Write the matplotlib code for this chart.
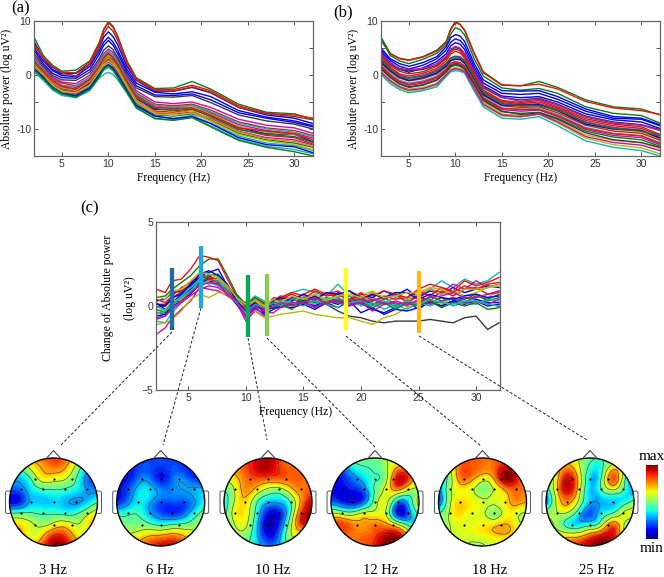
import matplotlib
matplotlib.use('Agg')
import matplotlib.pyplot as plt
import matplotlib.tri as mtri
import numpy as np
from matplotlib.lines import Line2D
from matplotlib.patches import Circle, FancyBboxPatch

W, H = 664, 577
plt.rcParams['font.family'] = ['Liberation Serif', 'DejaVu Serif']

BL, GR, RD, TE, MA, OL, DK = '#0000f0', '#0a7d1a', '#ee1111', '#12b5b0', '#c010b0', '#b8b810', '#3a3a3a'
BR = '#a0301a'
OR = '#e08a10'

freq_ab = [2, 3, 4, 5, 6.5, 8, 9, 9.5, 10, 10.5, 11, 12, 13, 15, 17, 19, 21, 24, 27, 30, 32]

power_a = [
    [1.8, 0.1, -1.6, -2.5, -3.0, -1.5, 1.0, 2.3, 3.0, 2.6, 1.5, -1.7, -4.4, -6.4, -6.4, -6.0, -7.1, -9.7, -10.9, -11.0, -12.4],
    [1.5, -0.1, -1.9, -2.8, -3.2, -1.8, 0.8, 2.1, 2.8, 2.2, 1.1, -2.0, -4.8, -6.7, -6.9, -6.4, -7.6, -10.0, -11.2, -11.6, -12.8],
    [1.3, -0.3, -2.1, -3.0, -3.5, -2.0, 0.5, 1.8, 2.4, 1.8, 0.7, -2.3, -5.2, -7.1, -7.2, -6.9, -8.0, -10.4, -11.6, -12.0, -13.0],
    [1.1, -0.6, -2.3, -3.3, -3.7, -2.3, 0.3, 1.4, 2.0, 1.4, 0.3, -2.6, -5.5, -7.4, -7.6, -7.2, -8.3, -10.8, -12.0, -12.6, -13.4],
    [0.9, -0.8, -2.6, -3.6, -4.0, -2.6, -0.2, 0.9, 1.4, 0.8, -0.3, -3.0, -5.8, -7.7, -8.0, -7.5, -8.9, -11.3, -12.6, -13.1, -14.0],
    [0.6, -1.0, -2.8, -3.8, -4.2, -2.9, -0.6, 0.1, 0.5, 0.1, -0.9, -3.4, -6.2, -8.0, -8.3, -7.8, -9.4, -11.9, -13.2, -13.8, -14.6],
    [2.4, 0.5, -1.2, -2.2, -2.6, -1.0, 1.4, 2.8, 3.6, 3.0, 1.9, -1.4, -3.9, -6.1, -6.3, -5.9, -7.2, -9.5, -10.6, -11.0, -12.0],
    [2.8, 0.9, -0.9, -1.9, -2.3, -0.7, 1.8, 3.3, 4.0, 3.4, 2.2, -1.0, -3.7, -5.7, -6.0, -5.6, -6.9, -9.2, -10.3, -10.8, -11.7],
    [3.1, 1.1, -0.7, -1.5, -2.0, -0.4, 2.1, 3.6, 4.3, 3.8, 2.6, -0.7, -3.3, -5.4, -5.7, -5.4, -6.5, -8.7, -9.8, -10.3, -11.2],
    [3.5, 1.4, -0.4, -1.3, -1.6, 0.0, 2.5, 4.0, 4.8, 4.2, 2.9, -0.4, -2.9, -5.0, -5.3, -5.0, -6.0, -8.2, -9.3, -9.8, -10.8],
    [4.0, 1.7, -0.1, -0.9, -1.0, 0.5, 3.0, 4.6, 5.4, 4.7, 3.3, 0.0, -2.4, -4.0, -4.1, -3.8, -5.1, -7.4, -8.5, -9.1, -10.0],
    [2.2, 0.3, -1.4, -2.3, -2.8, -1.1, 1.2, 2.6, 3.3, 2.8, 1.6, -1.6, -4.2, -6.2, -6.6, -6.3, -7.7, -10.1, -11.0, -11.4, -12.5],
    [1.6, -0.2, -1.9, -3.0, -3.3, -1.9, 0.6, 1.9, 2.6, 2.0, 0.9, -2.2, -5.0, -7.2, -7.5, -7.0, -8.6, -11.0, -12.2, -12.9, -13.8],
    [1.2, -0.4, -2.4, -3.4, -3.9, -2.4, 0.0, 1.2, 1.9, 1.2, 0.0, -2.9, -5.7, -7.6, -8.1, -7.7, -9.0, -11.6, -12.9, -13.3, -14.4],
    [2.0, 0.2, -1.5, -2.4, -2.9, -1.2, 1.1, 2.4, 3.2, 2.5, 1.3, -1.9, -4.6, -6.9, -7.1, -6.6, -8.2, -10.5, -11.8, -12.3, -13.2],
    [4.6, 2.1, 0.3, -0.5, -0.6, 1.0, 3.8, 5.5, 6.4, 5.5, 4.0, 0.5, -2.0, -3.7, -3.8, -3.5, -4.6, -7.0, -8.0, -8.8, -9.6],
    [5.0, 2.6, 0.8, -0.1, -0.3, 1.6, 4.4, 6.1, 7.0, 6.1, 4.6, 1.0, -1.5, -3.2, -3.5, -3.1, -4.0, -6.6, -7.8, -8.5, -9.4],
    [6.2, 3.1, 1.0, 0.2, 0.3, 2.0, 5.0, 7.0, 8.0, 7.1, 5.6, 1.6, -1.0, -3.0, -3.0, -2.3, -3.3, -6.0, -7.4, -8.0, -9.0],
    [5.6, 3.0, 1.4, 0.4, -0.2, 2.0, 5.2, 7.7, 9.0, 8.1, 6.4, 2.1, -0.9, -2.9, -3.0, -2.2, -3.2, -6.0, -7.2, -7.7, -8.3],
    [7.0, 3.6, 1.8, 0.7, 0.9, 2.6, 6.0, 8.5, 9.9, 9.0, 7.2, 2.6, -0.5, -2.5, -2.4, -1.2, -2.6, -5.4, -6.9, -7.2, -8.2],
    [5.8, 3.2, 1.5, 0.5, 0.4, 2.4, 5.7, 8.3, 9.7, 8.8, 7.0, 2.4, -0.7, -2.7, -2.7, -1.9, -2.9, -5.7, -7.1, -7.4, -8.0],
    [3.0, 1.0, -1.0, -2.0, -2.1, -0.5, 2.0, 3.7, 4.5, 3.7, 2.4, -0.9, -3.5, -5.6, -6.0, -5.6, -6.8, -8.9, -10.0, -10.6, -11.4],
    [2.6, 0.7, -1.1, -2.1, -2.6, -0.8, 1.6, 3.1, 3.9, 3.2, 2.0, -1.2, -3.9, -6.0, -6.2, -6.1, -7.4, -9.8, -10.4, -10.9, -12.1],
    [1.0, -0.7, -2.5, -3.5, -4.1, -2.7, -0.4, 1.1, 1.7, 0.9, -0.5, -3.2, -6.0, -8.1, -8.4, -7.9, -9.6, -12.1, -13.4, -14.2, -15.0],
]
colors_a = [BL, RD, MA, GR, TE, TE, OL, MA, RD, MA, DK, GR, OL, BL, OR, BL, BL, BL, BR, GR, RD, TE, RD, GR]

power_b = [
    [7.0, 4.0, 3.1, 2.8, 3.4, 4.6, 6.2, 8.6, 9.9, 9.4, 8.3, 4.2, 0.6, -1.8, -2.0, -1.2, -2.3, -4.6, -5.9, -6.3, -7.4],
    [6.4, 3.9, 3.0, 2.7, 3.3, 4.4, 6.0, 8.4, 9.7, 9.3, 8.2, 4.0, 0.4, -1.9, -2.0, -1.7, -2.6, -4.9, -6.1, -6.6, -7.3],
    [6.8, 3.6, 2.6, 2.1, 2.9, 4.0, 5.6, 7.6, 8.8, 8.4, 7.4, 3.1, -0.2, -2.4, -2.8, -2.5, -3.4, -5.9, -7.1, -7.5, -8.9],
    [5.0, 3.0, 2.1, 1.6, 2.3, 3.4, 5.2, 6.9, 7.5, 7.2, 6.2, 2.2, -0.9, -2.9, -3.0, -2.9, -4.0, -6.3, -7.7, -8.0, -9.2],
    [4.6, 2.7, 1.6, 1.1, 1.8, 3.0, 4.6, 6.1, 6.7, 6.4, 5.4, 1.6, -1.5, -3.4, -3.6, -3.4, -4.5, -6.7, -8.0, -8.2, -9.4],
    [4.2, 2.3, 1.1, 0.5, 1.3, 2.5, 3.9, 5.4, 6.0, 5.7, 4.7, 1.0, -2.0, -3.9, -4.2, -4.0, -5.0, -7.2, -8.3, -8.7, -9.9],
    [3.8, 2.0, 1.0, 0.8, 1.0, 1.8, 3.2, 4.6, 5.1, 4.8, 3.8, 0.5, -2.4, -4.2, -4.6, -4.3, -5.4, -7.6, -8.7, -9.2, -10.1],
    [3.5, 1.7, 0.7, 0.2, 0.6, 1.6, 3.0, 4.3, 4.8, 4.5, 3.4, 0.2, -2.8, -4.7, -5.1, -4.7, -5.9, -8.1, -9.1, -9.6, -11.0],
    [3.0, 1.2, 0.0, -0.5, 0.0, 0.9, 2.2, 3.2, 3.5, 3.4, 2.7, -0.2, -3.2, -5.1, -5.5, -5.3, -6.3, -8.7, -9.7, -10.2, -11.6],
    [2.6, 0.9, -0.3, -0.8, -0.4, 0.5, 1.8, 2.9, 3.2, 3.0, 2.4, -0.5, -3.5, -5.4, -5.8, -5.6, -6.7, -9.0, -10.1, -10.5, -11.9],
    [2.2, 0.6, -0.6, -1.1, -0.7, 0.2, 1.5, 2.6, 2.9, 2.8, 2.1, -0.7, -3.8, -5.7, -6.0, -5.9, -7.0, -9.3, -10.4, -10.8, -12.1],
    [1.9, 0.2, -1.0, -1.5, -1.1, -0.2, 1.2, 2.2, 2.5, 2.3, 1.7, -1.1, -4.1, -6.1, -6.3, -6.2, -7.3, -9.7, -10.8, -11.2, -12.5],
    [1.5, -0.1, -1.3, -1.9, -1.5, -0.6, 0.8, 1.9, 2.2, 2.0, 1.4, -1.4, -4.4, -6.4, -6.7, -6.5, -7.7, -10.1, -11.2, -11.6, -12.9],
    [1.1, -0.5, -1.7, -2.3, -1.9, -1.0, 0.5, 1.5, 1.8, 1.6, 1.0, -1.8, -4.8, -6.8, -7.1, -6.9, -8.0, -10.4, -11.5, -12.0, -13.2],
    [0.7, -0.9, -2.1, -2.6, -2.3, -1.5, 0.2, 1.1, 1.4, 1.2, 0.8, -2.2, -5.1, -7.2, -7.5, -7.1, -8.5, -11.1, -12.1, -12.6, -13.6],
    [0.3, -1.3, -2.4, -3.0, -2.7, -1.9, -0.1, 0.8, 1.0, 0.9, 0.5, -2.6, -5.6, -7.6, -7.8, -7.3, -8.9, -11.7, -12.9, -13.5, -14.6],
    [0.1, -1.6, -2.7, -3.3, -2.9, -2.2, -0.3, 0.6, 0.8, 0.7, 0.3, -2.9, -5.9, -8.0, -8.2, -7.7, -9.4, -12.2, -13.4, -14.0, -15.0],
    [2.4, 0.8, -0.4, -1.0, -0.5, 0.4, 1.7, 2.7, 3.0, 2.9, 2.3, -0.6, -3.6, -5.6, -5.6, -5.5, -6.6, -9.1, -10.0, -10.3, -11.7],
    [1.7, 0.0, -1.2, -1.7, -1.3, -0.4, 1.0, 2.1, 2.4, 2.2, 1.6, -1.2, -4.3, -6.2, -6.4, -6.4, -7.5, -9.9, -10.9, -11.3, -12.7],
    [1.2, -0.4, -1.6, -2.2, -1.8, -0.9, 0.6, 1.7, 2.0, 1.8, 1.1, -1.7, -4.6, -6.7, -7.3, -7.0, -8.2, -10.7, -12.0, -12.5, -13.4],
    [0.5, -1.1, -2.2, -2.8, -2.5, -1.7, 0.0, 0.9, 1.2, 1.0, 0.6, -2.4, -5.4, -7.4, -7.7, -7.2, -8.7, -11.4, -12.5, -13.0, -14.0],
    [3.2, 1.4, 0.2, -0.2, 0.3, 1.2, 2.6, 3.9, 4.4, 4.1, 3.1, 0.0, -3.0, -4.9, -5.3, -5.0, -6.1, -8.4, -9.4, -9.9, -11.2],
    [2.8, 1.0, -0.2, -0.6, -0.2, 0.7, 2.0, 3.1, 3.4, 3.2, 2.6, -0.4, -3.3, -5.3, -5.7, -5.7, -6.5, -8.8, -9.9, -10.4, -11.3],
    [4.0, 2.2, 1.2, 1.0, 1.2, 2.1, 3.5, 4.8, 5.3, 5.0, 4.0, 0.7, -2.2, -4.1, -4.9, -4.5, -5.6, -7.8, -8.9, -9.3, -10.3],
]
colors_b = [GR, RD, GR, BL, BL, BL, DK, BR, MA, OL, RD, TE, MA, GR, OL, OL, TE, BL, RD, DK, MA, RD, GR, MA]

freq_c = [2.2, 3, 3.6, 4.4, 5.2, 6, 6.8, 7.6, 8.4, 9.2, 10, 10.8, 11.6, 12.4,
          13, 14, 15, 16, 17, 18, 19, 20, 21, 22, 23, 24, 25, 26, 27, 28, 29, 30, 31, 32]

change_c = [
    [-0.4, -0.5, 0.1, 0.5, 1.0, 1.5, 1.7, 1.4, 0.9, 0.3, -0.2, 0.2, -0.2, 0.1, 0.4, 0.1, 0.3, 0.0, 0.4, 0.2, 0.6, 0.1, 0.3, 0.5, 0.1, 0.2, 0.6, 0.2, 0.5, 0.2, 0.4, 0.7, 0.3, 0.5],
    [0.1, 0.1, 0.5, 0.8, 1.2, 1.7, 1.8, 1.5, 1.0, 0.2, -0.4, 0.0, -0.3, -0.1, -0.1, 0.1, 0.2, 0.3, 0.1, -0.3, -0.6, -0.7, -0.9, -1.0, -0.9, -0.9, -0.9, -0.8, -0.9, -1.0, -0.7, -0.6, -1.4, -1.0],
    [-0.6, -0.5, 0.0, 0.3, 0.7, 1.3, 1.5, 1.3, 0.8, 0.3, -0.5, 0.1, -0.2, -0.1, 0.1, 0.4, 0.2, 0.0, 0.3, 0.1, 0.4, 0.2, -0.2, -0.4, -0.1, 0.3, -0.2, 0.3, 0.0, 0.3, 0.5, 0.4, 0.2, 0.2],
    [-0.9, -1.0, -0.4, 0.2, 0.9, 1.6, 1.4, 1.2, 0.9, 0.4, -0.4, 0.3, 0.1, 0.3, 0.5, 0.8, 1.0, 0.8, 0.6, 1.3, 0.6, 0.3, 0.5, 0.2, 0.5, 0.4, 0.7, 1.0, 1.5, 1.1, 1.6, 1.3, 1.5, 2.0],
    [-1.7, -1.3, -0.7, -0.2, 0.3, 1.1, 1.0, 0.9, 0.6, 0.2, -0.9, -0.3, -0.6, 0.2, 0.0, 0.3, 0.4, -0.1, 0.3, 0.4, 0.2, 0.5, 0.1, 0.4, 0.7, 0.4, 0.6, 1.0, 0.8, 1.3, 1.0, 1.5, 1.1, 1.3],
    [-1.1, -1.0, -0.8, -0.3, 0.4, 0.7, 0.5, 0.8, 0.7, 0.1, -0.5, -0.3, -0.7, -0.6, -0.5, -0.4, -0.3, -0.5, -0.6, -0.7, -0.7, -0.9, -1.1, -0.7, -0.5, -0.1, 0.2, 0.4, 0.1, 0.5, 0.2, 0.7, 0.5, 0.9],
    [0.3, 0.4, 0.8, 0.9, 1.2, 1.8, 2.0, 2.2, 1.2, 0.3, -0.3, 0.1, -0.3, 0.1, 0.2, 0.5, 0.3, 0.6, 0.2, 0.8, 0.4, 0.7, 0.5, 0.9, 0.6, 1.0, 0.5, 0.9, 0.7, 1.1, 0.8, 1.0, 1.2, 1.1],
    [0.5, 0.6, 1.0, 1.4, 1.8, 2.4, 2.8, 2.8, 1.8, 0.7, 0.1, 0.4, -0.1, 0.2, 0.3, 0.1, 0.4, 0.2, 0.5, 0.3, 0.0, 0.4, 0.1, 0.2, 0.0, 0.3, 0.1, 0.6, 0.3, 0.5, 0.2, 0.6, 0.4, 0.7],
    [1.0, 0.8, 1.5, 1.6, 2.2, 3.0, 2.9, 2.7, 1.6, 0.6, 0.0, 0.3, 0.0, 0.3, 0.6, 0.4, 0.7, 1.0, 0.7, 0.9, 0.4, 0.8, 0.3, 0.6, 0.4, 0.5, 1.0, 1.3, 1.1, 0.9, 1.5, 1.2, 1.4, 1.7],
    [-0.1, 0.0, 0.4, 0.9, 1.3, 1.9, 1.7, 1.6, 0.9, 0.4, 0.2, 0.5, 0.1, 0.3, 0.5, 0.8, 0.6, 0.3, 0.8, 0.5, 0.9, 0.3, 0.8, 0.4, 0.7, 0.2, 0.6, 0.3, 0.9, 0.6, 1.0, 1.1, 0.7, 0.8],
    [0.2, -0.2, 0.2, 0.7, 1.0, 1.4, 1.6, 1.4, 0.8, 0.1, -0.6, -0.1, -0.5, -0.2, 0.0, -0.1, 0.1, -0.2, 0.2, -0.1, 0.3, -0.4, -0.1, -0.5, -0.2, -0.3, -0.1, 0.2, 0.0, 0.3, 0.1, 0.3, 0.0, 0.1],
    [-0.3, -0.2, 0.3, 0.4, 0.9, 1.2, 1.5, 1.6, 1.0, 0.5, -0.2, 0.4, 0.0, 0.4, 0.1, 0.3, 0.5, 0.7, 0.4, 0.6, 0.9, 0.6, 0.9, 0.5, 0.8, 0.4, 0.7, 1.0, 0.7, 0.9, 0.6, 0.8, 1.1, 1.2],
    [0.0, -0.3, 0.0, 0.6, 1.1, 1.6, 1.9, 1.7, 1.1, 0.4, 0.1, 0.6, 0.3, 0.0, 0.3, 0.2, 0.0, 0.3, 0.1, -0.1, 0.4, 0.0, 0.2, -0.2, 0.1, -0.2, 0.2, 0.0, 0.3, 0.0, 0.2, 0.1, 0.4, 0.3],
    [-0.7, -0.6, -0.2, 0.2, 0.6, 1.0, 1.2, 1.1, 0.7, 0.2, -0.7, -0.2, -0.4, -0.4, -0.1, 0.2, 0.2, -0.1, 0.3, 0.2, 0.0, 0.2, -0.3, 0.1, 0.2, 0.0, 0.4, 0.1, 0.3, 0.5, 0.2, 0.3, 0.1, 0.4],
    [0.4, 0.2, 0.6, 1.1, 1.4, 1.8, 1.6, 1.4, 0.9, 0.2, -0.1, 0.2, -0.2, 0.5, 0.4, 0.7, 0.4, 0.9, 0.6, 0.7, 0.3, 0.7, 0.6, 0.9, 0.7, 0.5, 0.9, 0.6, 1.1, 0.8, 1.2, 1.0, 1.3, 1.4],
    [-0.2, -0.4, 0.2, 0.3, 0.8, 1.3, 1.8, 1.9, 1.2, 0.6, 0.0, 0.5, 0.2, -0.1, 0.1, -0.2, 0.3, 0.5, 0.2, 0.3, 0.1, 0.3, -0.1, 0.2, -0.2, 0.2, 0.0, 0.3, -0.1, 0.2, 0.0, 0.2, -0.2, -0.1],
    [0.1, 0.0, 0.5, 0.7, 1.3, 1.9, 2.1, 1.8, 1.3, 0.3, -0.3, 0.2, -0.4, 0.3, 0.5, 0.3, 0.7, 0.4, 0.8, 0.7, 0.9, 0.5, 0.7, 0.5, 0.8, 0.8, 0.4, 0.7, 0.5, 0.4, 0.6, 0.7, 0.5, 0.6],
    [-0.5, -0.3, 0.1, 0.5, 0.9, 1.5, 1.3, 1.5, 0.8, 0.2, -0.4, 0.1, -0.1, 0.2, 0.0, 0.4, 0.5, 0.1, 0.4, 0.5, 0.2, 0.3, 0.0, 0.3, -0.1, 0.3, 0.1, 0.4, 0.2, 0.1, 0.3, 0.3, 0.1, 0.0],
    [0.6, 0.4, 0.9, 1.0, 1.5, 2.0, 1.9, 1.7, 1.2, 0.5, 0.1, 0.3, 0.0, 0.4, 0.2, 0.6, 0.4, 0.7, 0.3, 0.6, 0.7, 0.5, 0.8, 0.5, 0.6, 0.8, 0.8, 1.1, 1.0, 0.7, 1.0, 1.0, 1.1, 1.3],
    [-0.8, -0.6, -0.1, 0.3, 0.8, 1.2, 1.4, 1.3, 0.7, 0.3, -0.6, 0.0, -0.3, 0.0, 0.2, 0.0, 0.2, 0.5, 0.1, 0.4, 0.1, 0.2, 0.4, 0.1, 0.3, 0.1, 0.3, 0.5, 0.6, 0.8, 0.5, 0.5, 0.7, 0.9],
]
colors_c = [GR, DK, BL, TE, MA, OL, BL, GR, RD, RD, BL, OL, TE, MA, RD, GR, BL, TE, OL, MA]

bar_freq = [3.58, 6.1, 10.2, 11.84, 18.74, 25.03]
bar_low = [-1.45, -0.1, -1.85, -1.8, -1.45, -1.6]
bar_high = [2.25, 3.6, 1.85, 1.9, 2.25, 2.1]
bar_colors = ['#1a6fa8', '#1fa8dc', '#0aa650', '#8cc850', '#ffff20', '#fdb813']

elec_x = [-.42, 0, .42, -.75, -.25, .25, .75, -.52, 0, .52, -.75, -.25, .25, .75, -.42, 0, .42]
elec_y = [.53, .53, .53, .3, .3, .3, .3, 0, 0, 0, -.26, -.26, -.26, -.26, -.52, -.52, -.52]

map_labels = ['3 Hz', '6 Hz', '10 Hz', '12 Hz', '18 Hz', '25 Hz']
# rows top to bottom, columns left to right, 0 = min, 1 = max
map_3 = [
    [.70, .70, .72, .80, .85, .82, .60, .35, .30],
    [.45, .45, .60, .72, .78, .72, .52, .30, .20],
    [.30, .30, .42, .62, .62, .58, .42, .22, .12],
    [.20, .20, .33, .40, .42, .40, .35, .27, .25],
    [.10, .12, .30, .32, .33, .30, .27, .33, .42],
    [.42, .45, .45, .42, .42, .40, .42, .55, .70],
    [.72, .68, .60, .55, .62, .66, .58, .66, .75],
    [.85, .78, .62, .70, .88, .85, .68, .62, .65],
    [.90, .85, .75, .85, 1.0, .98, .82, .65, .60],
]
map_6 = [
    [.15, .15, .15, .16, .16, .16, .15, .15, .15],
    [.15, .15, .18, .20, .17, .20, .17, .13, .10],
    [.12, .13, .22, .24, .13, .22, .25, .17, .15],
    [.10, .17, .32, .34, .25, .25, .28, .30, .32],
    [.10, .22, .35, .30, .20, .20, .20, .28, .38],
    [.38, .40, .42, .30, .20, .16, .22, .38, .52],
    [.50, .50, .50, .47, .42, .45, .47, .52, .55],
    [.60, .60, .64, .72, .75, .78, .72, .62, .55],
    [.70, .70, .78, .86, .92, .95, .85, .70, .60],
]
map_10 = [
    [.80, .82, .85, .90, .95, .88, .78, .70, .60],
    [.72, .75, .82, .92, .95, .85, .80, .80, .72],
    [.60, .65, .78, .82, .80, .80, .80, .80, .75],
    [.42, .55, .75, .65, .52, .50, .65, .78, .82],
    [.30, .55, .68, .45, .30, .30, .45, .78, .95],
    [.30, .60, .65, .38, .10, .12, .45, .88, .98],
    [.42, .55, .60, .32, .05, .15, .55, .85, .80],
    [.50, .52, .50, .32, .12, .25, .55, .55, .50],
    [.45, .45, .42, .35, .28, .32, .42, .45, .45],
]
map_12 = [
    [.20, .30, .48, .50, .50, .58, .62, .60, .50],
    [.15, .20, .35, .42, .45, .55, .72, .72, .55],
    [.12, .12, .22, .32, .42, .55, .92, .80, .55],
    [.15, .10, .12, .20, .45, .62, .70, .55, .60],
    [.22, .15, .10, .20, .50, .60, .25, .35, .72],
    [.58, .55, .50, .60, .62, .55, .10, .25, .50],
    [.75, .85, .78, .75, .78, .75, .60, .40, .30],
    [.70, .78, .78, .80, .85, .96, .96, .72, .40],
    [.65, .72, .76, .80, .90, 1.0, 1.0, .80, .50],
]
map_18 = [
    [.50, .60, .78, .82, .80, .80, .85, .82, .75],
    [.40, .50, .78, .82, .78, .80, .92, .88, .78],
    [.30, .45, .75, .75, .62, .72, .98, .88, .78],
    [.15, .48, .65, .60, .50, .58, .72, .80, .78],
    [.05, .48, .68, .65, .60, .60, .66, .75, .70],
    [.40, .55, .68, .62, .60, .50, .62, .60, .58],
    [.50, .55, .62, .62, .65, .68, .72, .62, .55],
    [.55, .55, .60, .60, .62, .66, .68, .62, .55],
    [.55, .55, .58, .55, .55, .60, .60, .58, .50],
]
map_25 = [
    [.55, .60, .68, .60, .48, .48, .48, .45, .40],
    [.50, .60, .75, .60, .40, .40, .65, .55, .35],
    [.45, .62, .92, .68, .32, .45, .82, .45, .20],
    [.30, .62, .92, .65, .32, .42, .55, .40, .25],
    [.10, .55, .75, .55, .30, .30, .32, .38, .52],
    [.50, .55, .55, .35, .20, .35, .45, .60, .60],
    [.60, .55, .40, .35, .40, .55, .80, .55, .40],
    [.70, .68, .68, .70, .82, .92, .90, .60, .35],
    [.75, .75, .80, .88, .95, .98, .85, .60, .45],
]
maps = [map_3, map_6, map_10, map_12, map_18, map_25]
map_cx = [53.5, 160.7, 268, 375, 482.5, 590]
label_cx = [53, 160, 273, 381, 490, 597]

fig = plt.figure(figsize=(W / 100, H / 100), dpi=100)


def px_axes(left, top, right, bottom):
    return fig.add_axes([left / W, 1 - bottom / H, (right - left) / W, (bottom - top) / H])


def style(ax):
    for s in ax.spines.values():
        s.set_color('#666666')
        s.set_linewidth(0.9)
    ax.tick_params(direction='in', top=True, right=True, length=3, width=0.7, color='#555555',
                   labelsize=7.5, labelcolor='#333333', pad=2)
    for t in ax.get_xticklabels() + ax.get_yticklabels():
        t.set_family('Liberation Sans')


def power_panel(box, data, colors):
    ax = px_axes(*box)
    for row, c in zip(data, colors):
        ax.plot(freq_ab, row, color=c, lw=1.0)
    ax.set_xlim(2, 32)
    ax.set_ylim(-15, 10)
    ax.set_xticks([5, 10, 15, 20, 25, 30])
    ax.set_yticks([-15, -10, -5, 0, 5, 10])
    ax.set_yticklabels(['', '-10', '', '0', '', '10'])
    style(ax)
    ax.set_xlabel('Frequency (Hz)', fontsize=8.4, labelpad=2)
    ax.set_ylabel('Absolute power (log uV²)', fontsize=8.4, labelpad=2)
    return ax


power_panel((34, 21, 313, 156), power_a, colors_a)
power_panel((381, 21, 660, 156), power_b, colors_b)

ax_c = px_axes(155.7, 222, 500, 390)
for row, c in zip(change_c, colors_c):
    ax_c.plot(freq_c, row, color=c, lw=1.0)
for f, lo, hi, c in zip(bar_freq, bar_low, bar_high, bar_colors):
    ax_c.plot([f, f], [lo, hi], color=c, lw=3.1, solid_capstyle='butt', zorder=5)
ax_c.set_xlim(2.17, 32.08)
ax_c.set_ylim(-5, 5)
ax_c.set_xticks([5, 10, 15, 20, 25, 30])
ax_c.set_yticks([-5, 0, 5])
style(ax_c)
fig.text(296 / W, 1 - 412 / H, 'Frequency (Hz)', fontsize=8.4, ha='center', va='center')
fig.text(108 / W, 1 - 298 / H, 'Change of Absolute power', rotation=90, fontsize=8.5, ha='center', va='center')
fig.text(130 / W, 1 - 298 / H, '(log uV²)', rotation=90, fontsize=8.5, ha='center', va='center')

fig.text(20.5 / W, 1 - 8 / H, '(a)', fontsize=12, ha='center', va='center')
fig.text(343.5 / W, 1 - 12 / H, '(b)', fontsize=12, ha='center', va='center')
fig.text(89.5 / W, 1 - 208 / H, '(c)', fontsize=12, ha='center', va='center')

# dashed guides from each bar down to its scalp map
guides = [((172, 332), (60, 446)), ((201, 308), (163, 445)), ((248, 338), (267, 440)),
          ((267, 338), (375, 447)), ((346, 336), (481, 446)), ((419, 336), (587, 440))]
for (x0, y0), (x1, y1) in guides:
    fig.add_artist(Line2D([x0 / W, x1 / W], [1 - y0 / H, 1 - y1 / H], color='#222222', lw=0.7,
                          dashes=(3, 2), transform=fig.transFigure))

grid = np.linspace(-1.05, 1.05, 9)
gx, gy = np.meshgrid(grid, grid[::-1])
triang = mtri.Triangulation(gx.ravel(), gy.ravel())
refiner = mtri.UniformTriRefiner(triang)
R = 44
for vals, cx, lab, lx in zip(maps, map_cx, map_labels, label_cx):
    ax = px_axes(cx - 1.2 * R, 502 - 1.2 * R, cx + 1.2 * R, 502 + 1.2 * R)
    ax.set_xlim(-1.2, 1.2)
    ax.set_ylim(-1.2, 1.2)
    ax.axis('off')
    ax.patch.set_alpha(0)
    for side in (-1, 1):
        ear = FancyBboxPatch((side * 1.03 - 0.04, -0.24), 0.08, 0.47, boxstyle='round,pad=0.02,rounding_size=0.04',
                             fc='white', ec='#555555', lw=0.7)
        ax.add_patch(ear)
    ax.plot([-.17, 0, .17], [.985, 1.17, .985], color='#444444', lw=0.8)
    fine, z = refiner.refine_field(np.array(vals).ravel(), subdiv=3)
    clip = Circle((0, 0), 1, transform=ax.transData)
    cf = ax.tricontourf(fine, z, levels=np.linspace(-0.1, 1.1, 65), cmap='jet', vmin=0, vmax=1)
    cf.set_clip_path(clip)
    cl = ax.tricontour(fine, z, levels=[.14, .28, .43, .57, .71, .86], colors='#444444', linewidths=0.45)
    cl.set_clip_path(clip)
    ax.add_patch(Circle((0, 0), 1, fc='none', ec='black', lw=1.0))
    ax.scatter(elec_x, elec_y, s=2.5, c='black', lw=0, zorder=5)
    fig.text(lx / W, 1 - 570 / H, lab, fontsize=10.5, ha='center', va='center')

cb = px_axes(646, 465, 658, 539)
cb.imshow(np.linspace(1, 0, 128).reshape(-1, 1), cmap='jet', aspect='auto')
cb.axis('off')
fig.text(652 / W, 1 - 457 / H, 'max', fontsize=11, ha='center', va='center')
fig.text(652 / W, 1 - 548 / H, 'min', fontsize=11, ha='center', va='center')

fig.savefig('out.png', dpi=100)
